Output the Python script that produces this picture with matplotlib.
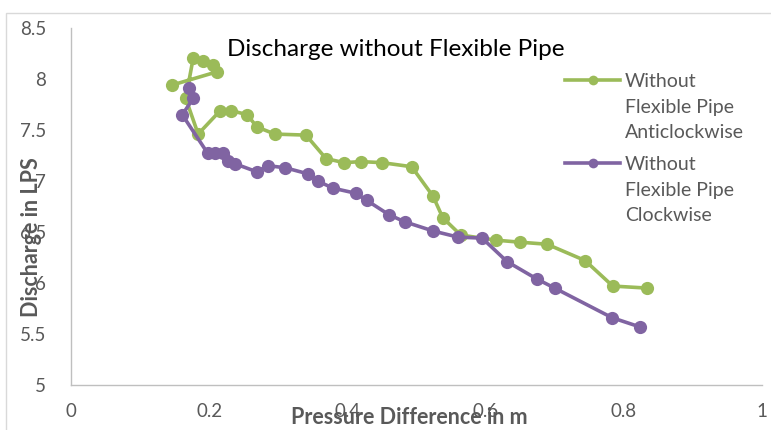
import matplotlib
matplotlib.use("Agg")
import matplotlib.pyplot as plt
from matplotlib.lines import Line2D
from matplotlib.patches import Rectangle

# Anticlockwise run (without flexible pipe)
acw_dp = [0.146, 0.211, 0.205, 0.191, 0.177, 0.166, 0.184, 0.216, 0.232, 0.255,
          0.269, 0.295, 0.340, 0.369, 0.395, 0.420, 0.450, 0.493, 0.524, 0.538,
          0.564, 0.615, 0.650, 0.689, 0.744, 0.784, 0.834]
acw_q = [7.94, 8.07, 8.14, 8.18, 8.21, 7.81, 7.46, 7.69, 7.69, 7.65,
         7.53, 7.46, 7.45, 7.22, 7.18, 7.19, 7.18, 7.14, 6.85, 6.64,
         6.47, 6.42, 6.40, 6.38, 6.22, 5.97, 5.95]

# Clockwise run (without flexible pipe)
cw_dp = [0.171, 0.177, 0.161, 0.198, 0.208, 0.220, 0.227, 0.237, 0.269, 0.285,
         0.310, 0.343, 0.357, 0.379, 0.412, 0.428, 0.460, 0.483, 0.524, 0.560,
         0.595, 0.631, 0.674, 0.700, 0.783, 0.823]
cw_q = [7.91, 7.81, 7.65, 7.27, 7.27, 7.27, 7.20, 7.17, 7.09, 7.15,
        7.13, 7.07, 7.00, 6.93, 6.88, 6.81, 6.67, 6.60, 6.51, 6.45,
        6.44, 6.21, 6.04, 5.95, 5.66, 5.57]

x_ticks = [0, 0.2, 0.4, 0.6, 0.8, 1]
x_tick_labels = ["0", "0.2", "0.4", "0.6", "0.8", "1"]
y_ticks = [5, 5.5, 6, 6.5, 7, 7.5, 8, 8.5]
y_tick_labels = ["5", "5.5", "6", "6.5", "7", "7.5", "8", "8.5"]

series_labels = ["Without\nFlexible Pipe\nAnticlockwise",
                 "Without\nFlexible Pipe\nClockwise"]

GREEN = "#9BBB59"
PURPLE = "#8064A2"
GREY_TXT = "#595959"

plt.rcParams["font.family"] = ["Lato", "DejaVu Sans"]

W, H = 771, 430
fig = plt.figure(figsize=(W / 100, H / 100), dpi=100)
fig.patch.set_facecolor("white")


def fx(px):
    return px / W


def fy(py):
    return 1 - py / H


# chart-area border
fig.patches.append(Rectangle((fx(6), -0.1), 1.2, fy(13) + 0.1,
                             transform=fig.transFigure, fill=False,
                             edgecolor="#D9D9D9", linewidth=1.0))

ax = fig.add_axes([fx(71), fy(385), (762 - 71) / W, (385 - 28) / H])

ax.plot(acw_dp, acw_q, color=GREEN, lw=2.6, marker="o", markersize=9.5,
        markeredgewidth=0, solid_capstyle="round", zorder=3)
ax.plot(cw_dp, cw_q, color=PURPLE, lw=2.6, marker="o", markersize=9.5,
        markeredgewidth=0, solid_capstyle="round", zorder=4)

ax.set_xlim(0, 1)
ax.set_ylim(5, 8.5)
ax.set_xticks(x_ticks)
ax.set_xticklabels(x_tick_labels)
ax.set_yticks(y_ticks)
ax.set_yticklabels(y_tick_labels)
ax.tick_params(axis="both", length=0, labelsize=13.5, labelcolor=GREY_TXT)
ax.tick_params(axis="x", pad=13)
ax.tick_params(axis="y", pad=18)

for side in ("top", "right"):
    ax.spines[side].set_visible(False)
for side in ("left", "bottom"):
    ax.spines[side].set_color("#BFBFBF")
    ax.spines[side].set_linewidth(1.0)

fig.text(fx(396), fy(50), "Discharge without Flexible Pipe",
         ha="center", va="center", fontsize=17.5, color="black")
fig.text(fx(409), fy(418), "Pressure Difference in m",
         ha="center", va="center", fontsize=15.5, fontweight="bold", color=GREY_TXT)
fig.text(fx(31), fy(237), "Discharge in LPS", rotation=90,
         ha="center", va="center", fontsize=15.5, fontweight="bold", color=GREY_TXT)

# legend: sample line + marker beside a three-line label
legend_rows = [(80, GREEN, series_labels[0]), (163, PURPLE, series_labels[1])]
for row_y, col, label in legend_rows:
    fig.add_artist(Line2D([fx(565), fx(620)], [fy(row_y), fy(row_y)],
                          transform=fig.transFigure, color=col, lw=2.6))
    fig.add_artist(Line2D([fx(592.5)], [fy(row_y)], transform=fig.transFigure,
                          color=col, marker="o", markersize=7, markeredgewidth=0))
    # baseline of the last line sits two line-pitches below the first
    fig.text(fx(625), fy(row_y + 6 + 52), label, ha="left", va="baseline",
             fontsize=14, color=GREY_TXT, linespacing=1.6)

fig.savefig("out.png", dpi=100, facecolor="white")
